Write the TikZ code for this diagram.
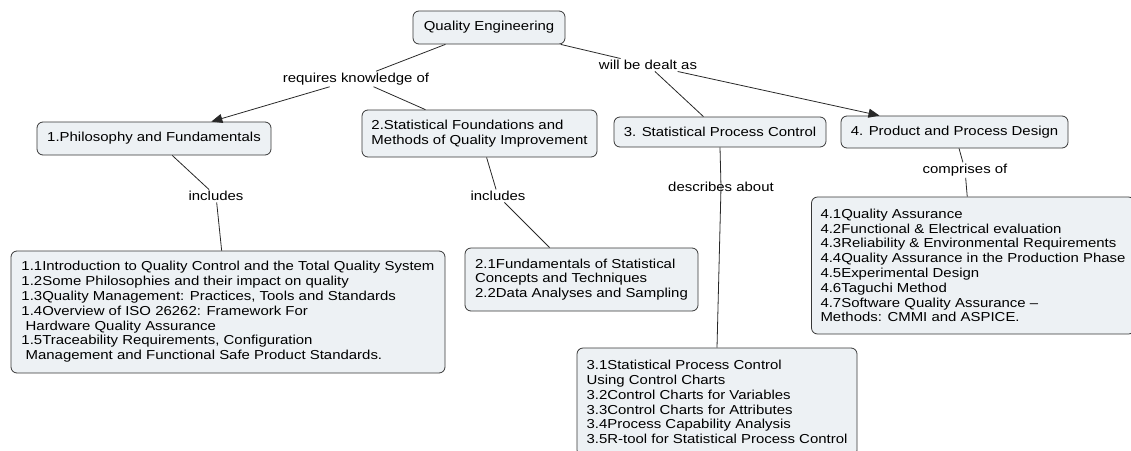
\documentclass[tikz,border=0pt]{standalone}
\usepackage{fontspec}
\setmainfont{Liberation Sans}[FakeStretch=1.15]
\usetikzlibrary{arrows.meta}
\definecolor{boxFill}{RGB}{237,241,244}
\definecolor{boxLine}{RGB}{55,55,55}
\definecolor{linkLine}{RGB}{40,40,40}

\begin{document}
\begin{tikzpicture}[
  x=1pt, y=-1pt,
  font=\fontsize{13pt}{14.8pt}\selectfont,
  concept/.style={
    draw=boxLine,
    fill=boxFill,
    rounded corners=6pt,
    line width=0.8pt,
    inner xsep=9pt,
    inner ysep=4pt,
    align=center,
  },
  topic/.style={
    concept,
    align=left,
    inner xsep=9pt,
    inner ysep=8pt,
  },
  linkword/.style={
    inner sep=1.5pt,
  },
  conn/.style={
    draw=linkLine,
    line width=0.8pt,
  },
  connarrow/.style={
    conn,
    -{Triangle[length=11pt,width=9pt]},
  },
]
  \useasboundingbox (0,0) rectangle (1131,450);

  % concepts
  \node[concept, minimum width=152pt, minimum height=33pt] (qe) at (489,27.5)
    {Quality Engineering};
  \node[concept, minimum width=234pt, minimum height=33pt] (phil) at (154,138.5)
    {1.Philosophy and Fundamentals};
  \node[concept, align=left, minimum width=235pt, minimum height=47pt] (stat) at (479.5,133.5)
    {2.Statistical Foundations and\\Methods of Quality Improvement};
  \node[concept, minimum width=212pt, minimum height=30pt] (spc) at (720,132)
    {3. Statistical Process Control};
  \node[concept, minimum width=227pt, minimum height=32pt] (ppd) at (954.5,132)
    {4. Product and Process Design};

  % topic lists
  \node[topic, minimum width=434pt, minimum height=122pt] (philItems) at (228,312)
    {1.1Introduction to Quality Control and the Total Quality System\\
     1.2Some Philosophies and their impact on quality\\
     1.3Quality Management: Practices, Tools and Standards\\
     1.4Overview of ISO 26262: Framework For\\
     \ Hardware Quality Assurance\\
     1.5Traceability Requirements, Configuration\\
     \ Management and Functional Safe Product Standards.};
  \node[topic, minimum width=233pt, minimum height=63pt] (statItems) at (581.5,279.5)
    {2.1Fundamentals of Statistical\\
     Concepts and Techniques\\
     2.2Data Analyses and Sampling};
  \node[topic, minimum width=280pt, minimum height=108pt] (spcItems) at (717,402)
    {3.1Statistical Process Control\\
     Using Control Charts\\
     3.2Control Charts for Variables\\
     3.3Control Charts for Attributes\\
     3.4Process Capability Analysis\\
     3.5R-tool for Statistical Process Control};
  \node[topic, minimum width=322pt, minimum height=137pt] (ppdItems) at (973,265.5)
    {4.1Quality Assurance\\
     4.2Functional \& Electrical evaluation\\
     4.3Reliability \& Environmental Requirements\\
     4.4Quality Assurance in the Production Phase\\
     4.5Experimental Design\\
     4.6Taguchi Method\\
     4.7Software Quality Assurance --\\
     Methods: CMMI and ASPICE.};

  % linking phrases
  \node[linkword] (lblReq) at (356,79) {requires knowledge of};
  \node[linkword] (lblDealt) at (648,65) {will be dealt as};
  \node[linkword] (lblIncPhil) at (216,196) {includes};
  \node[linkword] (lblIncStat) at (498,196) {includes};
  \node[linkword] (lblDesc) at (721,187) {describes about};
  \node[linkword] (lblComp) at (965,170) {comprises of};

  % connectors
  \draw[conn] (qe) -- (lblReq);
  \draw[connarrow] (lblReq) -- (phil);
  \draw[conn] (lblReq) -- (stat);
  \draw[conn] (qe) -- (lblDealt);
  \draw[conn] (lblDealt) -- (spc);
  \draw[connarrow] (lblDealt) -- (ppd);

  \draw[conn] (phil) -- (lblIncPhil);
  \draw[conn] (lblIncPhil) -- (philItems);
  \draw[conn] (stat) -- (lblIncStat);
  \draw[conn] (lblIncStat) -- (statItems);
  \draw[conn] (spc.south) -- (lblDesc.center) -- (spcItems.north);
  \draw[conn] (ppd) -- (lblComp);
  \draw[conn] (lblComp) -- (ppdItems);

\end{tikzpicture}
\end{document}
